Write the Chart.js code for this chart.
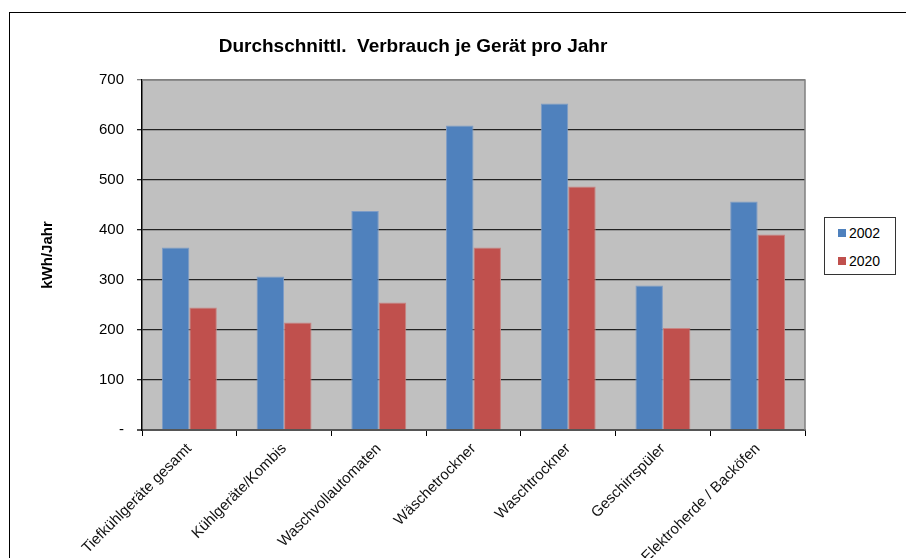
<!DOCTYPE html>
<html>
<head>
<meta charset="utf-8">
<script src="https://cdn.jsdelivr.net/npm/chart.js@4"></script>
<style>
  body { margin: 0; background: #fff; }
  #wrap { position: relative; width: 906px; height: 558px; overflow: hidden; }
  #frame { position: absolute; left: 9px; top: 12px; width: 910px; height: 560px;
           border-left: 1.5px solid #000; border-top: 1.5px solid #000; }
  #legend { position: absolute; left: 824px; top: 217px; width: 70px; height: 56px;
            border: 1px solid #333; background: #fff;
            font: 14px "Liberation Sans", Arial, sans-serif; color: #000; }
  #legend div { position: absolute; left: 13px; }
  #legend span { display: inline-block; width: 8px; height: 8px; margin-right: 3px; vertical-align: 1px; }
  canvas { position: absolute; left: 0; top: 0; }
</style>
</head>
<body>
<div id="wrap">
  <div id="frame"></div>
  <canvas id="myChart" width="906" height="558"></canvas>
  <div id="legend"></div>
</div>
<script>
// categories and values
let categories = ['Tiefkühlgeräte gesamt', 'Kühlgeräte/Kombis', 'Waschvollautomaten',
  'Wäschetrockner', 'Waschtrockner', 'Geschirrspüler', 'Elektroherde / Backöfen']
let v2002 = [365, 307, 438, 609, 653, 289, 457]
let v2020 = [245, 215, 255, 365, 487, 204, 391]
let seriesNames = ['2002', '2020']
let seriesColors = ['#4F81BD', '#C0504D']
let yTicks = [0, 100, 200, 300, 400, 500, 600, 700]

const font = '"Liberation Sans", Arial, sans-serif'

// gray plot background and border, title text
const plotBg = {
  id: 'plotBg',
  beforeDraw(chart) {
    const a = chart.chartArea, ctx = chart.ctx
    ctx.save()
    ctx.fillStyle = '#C0C0C0'
    ctx.fillRect(a.left, a.top, a.right - a.left, a.bottom - a.top)
    ctx.restore()
  },
  beforeDatasetsDraw(chart) {
    const a = chart.chartArea, ctx = chart.ctx
    ctx.save()
    ctx.strokeStyle = '#808080'
    ctx.lineWidth = 1.5
    ctx.beginPath()
    ctx.moveTo(a.left, a.top); ctx.lineTo(a.right, a.top); ctx.lineTo(a.right, a.bottom)
    ctx.stroke()
    ctx.restore()
  },
  afterDraw(chart) {
    const ctx = chart.ctx
    ctx.save()
    ctx.fillStyle = '#000'
    ctx.font = 'bold 19px ' + font
    ctx.textAlign = 'center'
    ctx.textBaseline = 'middle'
    ctx.fillText('Durchschnittl.  Verbrauch je Gerät pro Jahr', 413, 47)
    ctx.restore()
  }
}

var ctx = document.getElementById('myChart').getContext('2d')
var myChart = new Chart(ctx, {
  type: 'bar',
  data: {
    labels: categories,
    datasets: [v2002, v2020].map((d, i) => ({
      label: seriesNames[i],
      data: d,
      backgroundColor: seriesColors[i],
      borderColor: i == 0 ? '#7E9CC6' : '#C98583',
      borderWidth: { top: 1, left: 1, right: 1, bottom: 0 },
      categoryPercentage: 0.58,
      barPercentage: 1
    }))
  },
  options: {
    responsive: false,
    animation: false,
    layout: { padding: { top: 80, right: 101, left: 0, bottom: 0 } },
    plugins: { legend: { display: false }, tooltip: { enabled: false } },
    scales: {
      x: {
        grid: { offset: true, drawOnChartArea: false, drawTicks: true, tickLength: 6, color: '#000' },
        border: { color: '#555', width: 2 },
        ticks: { maxRotation: 45, minRotation: 45, autoSkip: false, padding: 4,
                 color: '#111', font: { family: font, size: 15 } },
        afterFit(s) { s.height = 128 }
      },
      y: {
        min: 0, max: 700,
        afterBuildTicks(s) { s.ticks = yTicks.map(v => ({ value: v })) },
        grid: {
          tickLength: 5,
          color: c => c.index == 0 ? '#555' : (c.index == yTicks.length - 1 ? '#808080' : '#222'),
          lineWidth: c => c.index == 0 ? 2 : 1.3
        },
        border: { color: '#000', width: 1.5 },
        ticks: { padding: 13, color: '#000', font: { family: font, size: 15 },
                 callback: v => v == 0 ? '-' : v },
        title: { display: true, text: 'kWh/Jahr', color: '#000',
                 font: { family: font, size: 15, weight: 'bold' }, padding: { top: 39 } },
        afterFit(s) { s.width = 142 }
      }
    }
  },
  plugins: [plotBg]
})

// legend box from the series arrays
let lg = document.getElementById('legend')
seriesNames.forEach((n, i) => {
  let d = document.createElement('div')
  d.style.top = (7 + i * 28) + 'px'
  d.innerHTML = '<span style="background:' + seriesColors[i] + '"></span>' + n
  lg.appendChild(d)
})
</script>
</body>
</html>
